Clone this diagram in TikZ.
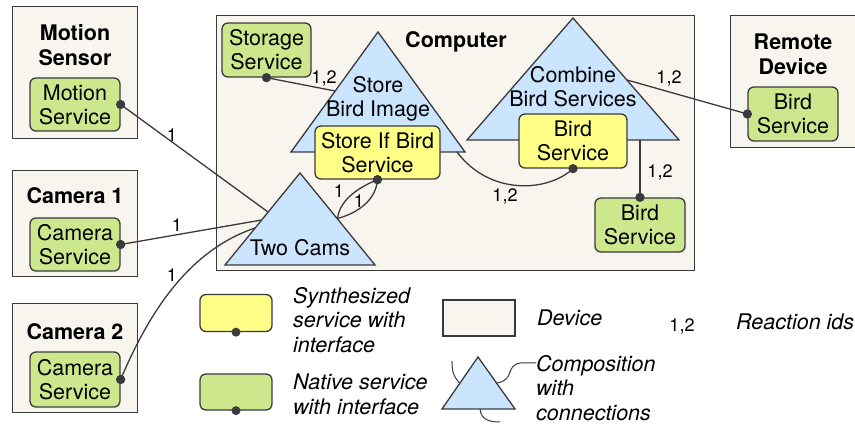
\documentclass[tikz,border=0pt]{standalone}
\usepackage{fontspec}
\setmainfont{TeX Gyre Heros}
\definecolor{devfill}{RGB}{247,245,238}
\definecolor{natfill}{RGB}{205,232,140}
\definecolor{synfill}{RGB}{255,255,136}
\definecolor{compfill}{RGB}{204,229,255}
\definecolor{edgecol}{RGB}{58,58,62}
\tikzset{
  device/.style={draw=edgecol, fill=devfill, line width=1.3pt, inner sep=0pt},
  native/.style={draw=edgecol, fill=natfill, rounded corners=6pt, line width=1.3pt, inner sep=0pt, txt},
  synth/.style={draw=edgecol, fill=synfill, rounded corners=6pt, line width=1.3pt, inner sep=0pt, txt},
  comp/.style={draw=edgecol, fill=compfill, line width=1.3pt, line join=miter},
  conn/.style={draw=edgecol, line width=1.3pt},
  dotnode/.style={circle, fill=edgecol, inner sep=0pt, minimum size=9pt},
  txt/.style={font=\fontsize{21.5}{24}\selectfont, align=center, inner sep=0pt},
  ttl/.style={font=\bfseries\fontsize{21.5}{25}\selectfont, align=center, inner sep=0pt},
  lbl/.style={font=\fontsize{18}{20}\selectfont, inner sep=0pt},
  leg/.style={font=\itshape\fontsize{21.5}{24.5}\selectfont, align=left, inner sep=0pt, anchor=west},
}
\begin{document}
\begin{tikzpicture}[x=1pt,y=-1pt]
\useasboundingbox (0,0) rectangle (855,427);

% ---------- devices ----------
\node[device, anchor=north west, minimum width=125pt, minimum height=132pt] (msdev) at (12,6) {};
\node[ttl] (mstitle) at (75,45) {Motion\\Sensor};
\node[native, minimum width=90pt, minimum height=53pt] (msv) at (75,104.5) {Motion\\Service};
\node[dotnode] (msvd) at (msv.east) {};

\node[device, anchor=north west, minimum width=125pt, minimum height=106pt] (c1dev) at (12,170) {};
\node[ttl] (c1title) at (75,196) {Camera 1};
\node[native, minimum width=90pt, minimum height=53pt] (c1sv) at (75,244.5) {Camera\\Service};
\node[dotnode] (c1d) at (c1sv.east) {};

\node[device, anchor=north west, minimum width=125pt, minimum height=109pt] (c2dev) at (12,303) {};
\node[ttl] (c2title) at (75,332) {Camera 2};
\node[native, minimum width=90pt, minimum height=55pt] (c2sv) at (75,379.5) {Camera\\Service};
\node[dotnode] (c2d) at (c2sv.east) {};

\node[device, anchor=north west, minimum width=478pt, minimum height=255pt] (comp) at (216,15) {};
\node[ttl] (comptitle) at (456,42) {Computer};

\node[device, anchor=north west, minimum width=130pt, minimum height=132pt] (rdev) at (730,15) {};
\node[ttl] (rtitle) at (793,54.5) {Remote\\Device};
\node[native, minimum width=90pt, minimum height=54pt] (rsv) at (793,114) {Bird\\Service};
\node[dotnode] (rd) at (rsv.west) {};

% ---------- compositions (triangles) ----------
\coordinate (sbA) at (378,32);
\coordinate (sbL) at (291,152);
\coordinate (sbR) at (465,152);
\draw[comp] (sbA) -- (sbR) -- (sbL) -- cycle;
\node[txt] (sbtext) at (378,98.5) {Store\\Bird Image};

\coordinate (cbA) at (573,18);
\coordinate (cbL) at (467,140);
\coordinate (cbR) at (679,140);
\draw[comp] (cbA) -- (cbR) -- (cbL) -- cycle;
\node[txt] (cbtext) at (573,87) {Combine\\Bird Services};

\coordinate (tcA) at (300,173);
\coordinate (tcL) at (225,265);
\coordinate (tcR) at (375,265);
\draw[comp] (tcA) -- (tcR) -- (tcL) -- cycle;
\node[txt] (tctext) at (300,248) {Two Cams};

% ---------- services in computer ----------
\node[native, minimum width=89pt, minimum height=54pt] (stsv) at (266.5,50) {Storage\\Service};
\node[dotnode] (std) at (stsv.south) {};

\node[synth, minimum width=125pt, minimum height=53pt] (sib) at (377.5,152.5) {Store If Bird\\Service};
\node[dotnode] (sibd) at (sib.south) {};

\node[synth, minimum width=108pt, minimum height=54pt] (cbsv) at (573,141) {Bird\\Service};
\node[dotnode] (cbsvd) at (cbsv.south) {};

\node[native, minimum width=90pt, minimum height=54pt] (bsv) at (640,225) {Bird\\Service};
\node[dotnode] (bsvd) at (bsv.north) {};

% ---------- connection points on triangle edges ----------
\coordinate (sbin) at (335,91);
\coordinate (sbout) at (457,152);
\coordinate (cbout) at (627,80);
\coordinate (cbbase) at (640,140);
\coordinate (tcm) at (268,212);
\coordinate (tc1) at (261.7,220);
\coordinate (tc2) at (255,228);
\coordinate (tcr) at (337.5,218.5);

% ---------- connectors ----------
\draw[conn] (msvd.center) -- (tcm);
\draw[conn] (c1d.center) -- (tc1);
\draw[conn] (c2d.center) .. controls (150,310) and (190,250) .. (tc2);
\draw[conn] (tcr) .. controls (340,198) and (362,186) .. (sibd.center);
\draw[conn] (tcr) .. controls (358,213) and (376,200) .. (sibd.center);
\draw[conn] (std.center) -- (sbin);
\draw[conn] (sbout) .. controls (490,196) and (548,192) .. (cbsvd.center);
\draw[conn] (cbbase) -- (bsvd.center);
\draw[conn] (cbout) -- (rd.center);
\node[dotnode] at (msvd) {};
\node[dotnode] at (c1d) {};
\node[dotnode] at (c2d) {};
\node[dotnode] at (sibd) {};
\node[dotnode] at (std) {};
\node[dotnode] at (cbsvd) {};
\node[dotnode] at (bsvd) {};
\node[dotnode] at (rd) {};

% ---------- labels ----------
\node[lbl] (l1) at (172,135) {1};
\node[lbl] (l2) at (177,225) {1};
\node[lbl] (l3) at (172,275) {1};
\node[lbl] (l4) at (339,191) {1};
\node[lbl] (l5) at (359,201) {1};
\node[lbl] (l6) at (324,78) {1,2};
\node[lbl] (l7) at (505,196) {1,2};
\node[lbl] (l8) at (660,172) {1,2};
\node[lbl] (l9) at (669,78) {1,2};

% ---------- legend ----------
\node[synth, minimum width=72pt, minimum height=37pt] (legsyn) at (236,313) {};
\node[dotnode] (legsynd) at (legsyn.south) {};
\node[leg] (legsyntxt) at (293,320) {Synthesized\\service with\\interface};

\node[native, minimum width=72pt, minimum height=36pt] (legnat) at (236,392) {};
\node[dotnode] (legnatd) at (legnat.south) {};
\node[leg] (legnattxt) at (293,394.5) {Native service\\with interface};

\node[device, minimum width=72pt, minimum height=36pt] (legdev) at (479,318) {};
\node[leg] (legdevtxt) at (537,318) {Device};

\node[lbl] (legrid) at (682,326) {1,2};
\node[leg] (legridtxt) at (736,322) {Reaction ids};

\coordinate (lgA) at (478,357);
\coordinate (lgL) at (442,409);
\coordinate (lgR) at (515,409);
\coordinate (lgl) at (459.5,383);
\coordinate (lgr) at (497,383);
\coordinate (lgb) at (480,409);
\draw[comp] (lgA) -- (lgR) -- (lgL) -- cycle;
\node[leg] (legcomptxt) at (536,388) {Composition\\with\\connections};
\coordinate (lgrend) at (536,363);
\draw[conn, line width=1pt] (lgl) .. controls (452,375) and (452,368) .. (452,361);
\draw[conn, line width=1pt] (lgr) .. controls (515,380) and (505,366) .. (520,363) -- (lgrend);
\draw[conn, line width=1pt] (lgb) .. controls (481,420) and (490,422) .. (500,422);
\end{tikzpicture}
\end{document}
